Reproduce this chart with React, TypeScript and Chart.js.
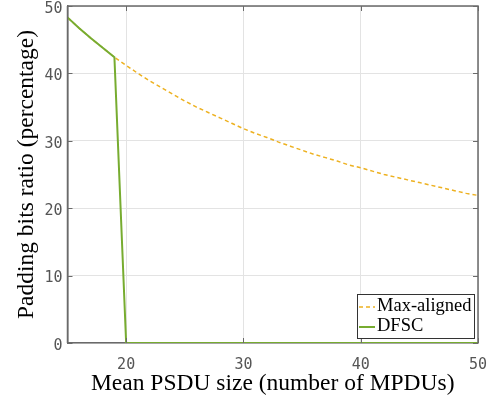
import React, { useEffect, useRef } from "react";
import { Chart, registerables } from "chart.js";

Chart.register(...registerables);

const xValues = [15, 16, 17, 18, 19, 20, 21, 22, 23, 24, 25, 26, 27, 28, 29, 30, 31, 32, 33, 34, 35, 36, 37, 38, 39, 40, 41, 42, 43, 44, 45, 46, 47, 48, 49, 50];
const maxAligned = [48.3, 46.7, 45.2, 43.8, 42.4, 41.2, 40.0, 38.9, 37.9, 36.9, 35.9, 35.0, 34.2, 33.4, 32.6, 31.8, 31.1, 30.5, 29.8, 29.2, 28.6, 28.0, 27.5, 27.0, 26.4, 26.0, 25.5, 25.0, 24.6, 24.2, 23.8, 23.4, 23.0, 22.6, 22.2, 21.9];
const dfsc = [48.3, 46.7, 45.2, 43.8, 42.4, 0, 0, 0, 0, 0, 0, 0, 0, 0, 0, 0, 0, 0, 0, 0, 0, 0, 0, 0, 0, 0, 0, 0, 0, 0, 0, 0, 0, 0, 0, 0];
const seriesLabels = ["Max-aligned", "DFSC"];
const xTicks = [20, 30, 40, 50];
const yTicks = [0, 10, 20, 30, 40, 50];
const xTitle = "Mean PSDU size (number of MPDUs)";
const yTitle = "Padding bits ratio (percentage)";

const ORANGE = "#EDB120";
const GREEN = "#77AC30";
const AXIS = "#6a6a6a";
const SERIF = "'Liberation Serif', 'DejaVu Serif', serif";
const MONO = "'DejaVu Sans Mono', monospace";

const boxPlugin = {
  id: "boxPlugin",
  afterDatasetsDraw(chart: any) {
    const { ctx, chartArea } = chart;
    const { left, right, top, bottom } = chartArea;
    const xs = chart.scales.x;
    const ys = chart.scales.y;
    ctx.save();
    ctx.strokeStyle = AXIS;
    ctx.lineWidth = 1.5;
    ctx.beginPath();
    ctx.moveTo(left, top);
    ctx.lineTo(right, top);
    ctx.lineTo(right, bottom);
    ctx.moveTo(left, top);
    ctx.lineTo(left, bottom);
    ctx.stroke();
    ctx.lineWidth = 1;
    const tl = 5;
    ctx.beginPath();
    xTicks.forEach((v) => {
      const px = Math.round(xs.getPixelForValue(v)) + 0.5;
      ctx.moveTo(px, bottom);
      ctx.lineTo(px, bottom - tl);
      ctx.moveTo(px, top);
      ctx.lineTo(px, top + tl);
    });
    yTicks.forEach((v) => {
      const py = Math.round(ys.getPixelForValue(v)) + 0.5;
      ctx.moveTo(left, py);
      ctx.lineTo(left + tl, py);
      ctx.moveTo(right, py);
      ctx.lineTo(right - tl, py);
    });
    ctx.stroke();
    ctx.restore();
  },
  afterDraw(chart: any) {
    const { ctx, chartArea } = chart;
    const bx1 = chartArea.right - 4;
    const bx0 = bx1 - 117;
    const by1 = chartArea.bottom - 5;
    const by0 = by1 - 44;
    ctx.save();
    ctx.fillStyle = "#ffffff";
    ctx.fillRect(bx0, by0, bx1 - bx0, by1 - by0);
    ctx.strokeStyle = "#333333";
    ctx.lineWidth = 1;
    ctx.strokeRect(bx0 + 0.5, by0 + 0.5, bx1 - bx0, by1 - by0);
    ctx.font = "18.5px " + SERIF;
    ctx.textBaseline = "middle";
    ctx.fillStyle = "#000000";
    const rows = [0, 1];
    rows.forEach((idx, r) => {
      const ds = chart.data.datasets[idx];
      const cy = by0 + 12 + r * 20;
      ctx.strokeStyle = ds.borderColor;
      ctx.lineWidth = ds.borderWidth;
      ctx.setLineDash(ds.borderDash || []);
      ctx.beginPath();
      ctx.moveTo(bx0 + 2, cy + 1);
      ctx.lineTo(bx0 + 18, cy + 1);
      ctx.stroke();
      ctx.setLineDash([]);
      ctx.fillText(ds.label, bx0 + 20, cy);
    });
    ctx.restore();
  },
};

export default function App() {
  const ref = useRef<HTMLCanvasElement | null>(null);
  useEffect(() => {
    document.body.style.margin = "0";
    const canvas = ref.current;
    if (!canvas) return;
    const chart = new Chart(canvas, {
      type: "line",
      data: {
        datasets: [
          {
            label: seriesLabels[0],
            data: xValues.map((x, i) => ({ x, y: maxAligned[i] })),
            borderColor: ORANGE,
            backgroundColor: ORANGE,
            borderWidth: 1.5,
            borderDash: [4, 3],
            pointRadius: 0,
            tension: 0,
            order: 1,
          },
          {
            label: seriesLabels[1],
            data: xValues.map((x, i) => ({ x, y: dfsc[i] })),
            borderColor: GREEN,
            backgroundColor: GREEN,
            borderWidth: 2,
            pointRadius: 0,
            tension: 0,
            order: 0,
          },
        ],
      },
      options: {
        animation: false,
        responsive: false,
        maintainAspectRatio: false,
        layout: { padding: { left: 0, right: 16, top: 6, bottom: 0 } },
        plugins: { legend: { display: false }, tooltip: { enabled: false } },
        scales: {
          x: {
            type: "linear",
            min: 15,
            max: 50,
            afterBuildTicks: (s: any) => {
              s.ticks = xTicks.map((v) => ({ value: v }));
            },
            afterFit: (s: any) => {
              s.height = 57;
              s.paddingLeft = 0;
              s.paddingRight = 0;
            },
            grid: { color: "#e3e3e3", lineWidth: 1, drawTicks: false },
            border: { display: true, color: AXIS, width: 1.5 },
            ticks: {
              padding: 13,
              color: "#555555",
              font: { family: MONO, size: 15 },
              maxRotation: 0,
            },
            title: {
              display: true,
              text: xTitle,
              color: "#000000",
              font: { family: SERIF, size: 23.5 },
              padding: { top: 0, bottom: 2 },
            },
          },
          y: {
            type: "linear",
            min: 0,
            max: 50,
            afterBuildTicks: (s: any) => {
              s.ticks = yTicks.map((v) => ({ value: v }));
            },
            afterFit: (s: any) => {
              s.width = 67.5;
              s.paddingTop = 0;
              s.paddingBottom = 0;
            },
            grid: { color: "#e3e3e3", lineWidth: 1, drawTicks: false },
            border: { display: true, color: AXIS, width: 1.5 },
            ticks: {
              padding: 5,
              labelOffset: 3,
              color: "#555555",
              font: { family: MONO, size: 15 },
            },
            title: {
              display: true,
              text: yTitle,
              color: "#000000",
              font: { family: SERIF, size: 23.5 },
              padding: { top: 13, bottom: 0 },
            },
          },
        },
      },
      plugins: [boxPlugin],
    });
    return () => chart.destroy();
  }, []);
  return <canvas ref={ref} width={494} height={400} style={{ display: "block" }} />;
}
